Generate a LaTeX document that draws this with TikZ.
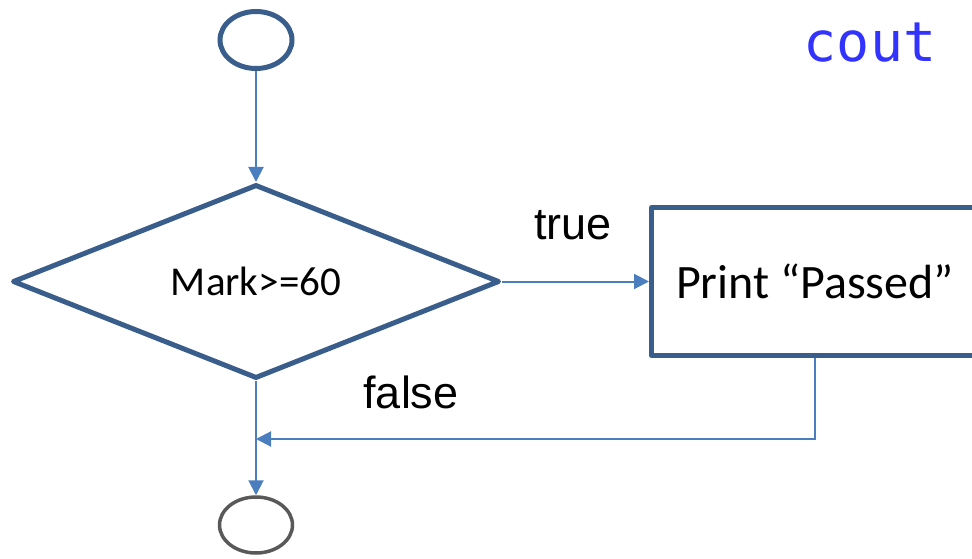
\documentclass[tikz,border=0pt]{standalone}
\usepackage{fontspec}
\setmainfont{Carlito}
\newfontfamily\labelfont{Liberation Sans}
\newfontfamily\codefont{DejaVu Sans Mono}
\usetikzlibrary{shapes.geometric,arrows.meta}

\definecolor{shapeblue}{RGB}{58,94,140}
\definecolor{linkblue}{RGB}{74,126,190}
\definecolor{codeblue}{RGB}{51,51,255}
\definecolor{endgray}{RGB}{89,89,89}

\tikzset{
  terminal/.style={ellipse, draw=shapeblue, line width=5pt, inner sep=0pt},
  endterminal/.style={ellipse, draw=endgray, line width=3.5pt, inner sep=0pt},
  decision/.style={diamond, draw=shapeblue, line width=5pt, line join=round,
    inner sep=0pt, aspect=2.5, font=\fontsize{41}{49}\selectfont},
  process/.style={rectangle, draw=shapeblue, line width=5pt, line join=round,
    inner sep=0pt, font=\fontsize{48}{58}\selectfont},
  flow/.style={draw=linkblue, line width=2pt,
    -{Triangle[length=15pt,width=15pt]}},
  branchlabel/.style={anchor=base, inner sep=0pt,
    font=\labelfont\fontsize{45}{54}\selectfont},
}

\begin{document}
\begin{tikzpicture}[x=1pt,y=-1pt]
  \useasboundingbox (0,0) rectangle (972,559);
  \clip (0,0) rectangle (972,559);

  % shapes
  \node[terminal, minimum width=72, minimum height=57] (start) at (256,40) {};
  \node[decision, minimum width=487, minimum height=194] (dec) at (256,281.5) {Mark>=60};
  \node[process, minimum width=327, minimum height=148] (print) at (815,281.5) {Print “Passed”};
  \node[endterminal, minimum width=73, minimum height=56] (stop) at (256,525) {};
  \coordinate (merge) at (256,439);

  % connectors
  \draw[flow] (start.south) -- (dec.north);
  \draw[flow] (dec.east) -- (print.west);
  \draw[flow] (print.south) |- (merge);
  \draw[flow] (dec.south) -- (stop.north);

  % labels
  \node[branchlabel] (truelbl) at (573,239) {true};
  \node[branchlabel] (falselbl) at (411,408) {false};
  \node[anchor=base, inner sep=0pt, text=codeblue,
    font=\codefont\fontsize{55}{66}\selectfont] (code) at (870,62) {cout};
\end{tikzpicture}
\end{document}
